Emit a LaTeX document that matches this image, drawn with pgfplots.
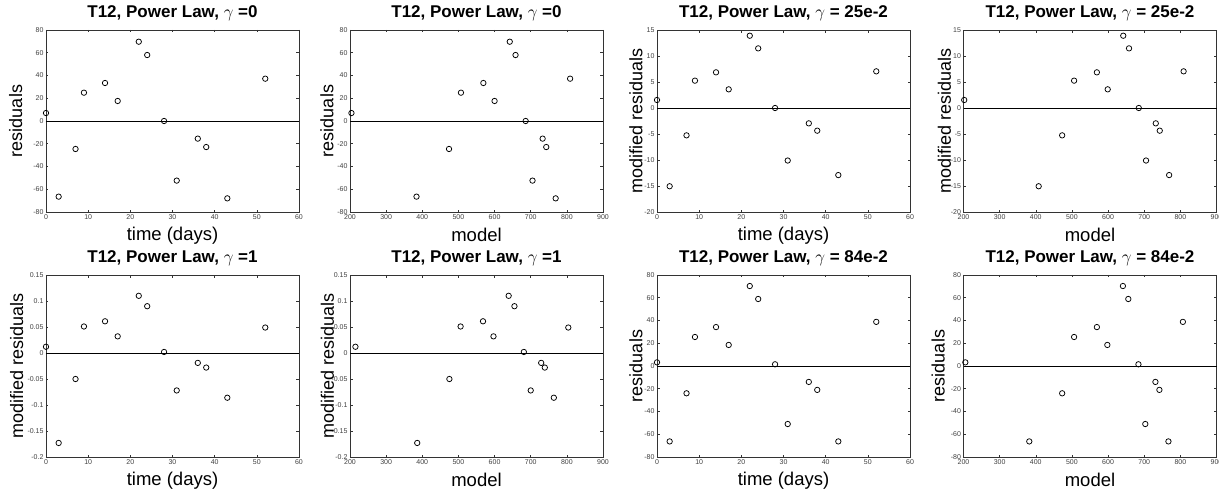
\documentclass[border=0pt]{standalone}
\usepackage{fontspec}
\setmainfont{Liberation Sans}
\usepackage{pgfplots}
\usepackage{pgfplotstable}
\pgfplotsset{compat=1.18}

% t, res0, model0, mres25, model25, mres1, model1, res84, model84
\pgfplotstableread{
t  ra   ma   rb     mb   rc      mc   rd     md
0  7.0  204  1.54   202  0.012   215  3.2    205
3  -66.5 384 -15.05 408  -0.173  386  -66.3  382
7  -24.6 474 -5.26  473  -0.050  475  -24.0  473
9  24.9 507  5.26   506  0.051   506  25.5   506
14 33.4 569  6.86   569  0.061   568  34.2   569
17 17.6 600  3.59   599  0.032   597  18.5   598
22 69.7 642  13.9   642  0.110   639  70.3   641
24 58.0 658  11.47  658  0.090   655  58.9   656
28 0.0  686  0.0    685  0.002   681  1.5    684
31 -52.4 705 -10.1  705  -0.072  700  -51.0  703
36 -15.5 733 -2.95  732  -0.019  729  -14.0  731
38 -22.9 743 -4.36  743  -0.028  739  -21.0  742
43 -68.0 769 -12.9  769  -0.086  764  -66.3  767
52 37.2 809  7.05   809  0.049   804  38.8   807
}\data

\pgfplotsset{
  mstyle/.style={
    scale only axis, width=253pt, height=182pt, anchor=south west,
    axis line style={black!80, line width=0.5pt},
    every tick/.style={black!80, line width=0.5pt},
    tick align=inside, major tick length=2.5pt,
    /pgf/number format/assume math mode=true,
    ticklabel style={font=\fontsize{7}{7}\selectfont, text=black!75},
    xticklabel style={yshift=1pt},
    yticklabel style={xshift=1pt},
    title style={font=\bfseries\fontsize{17}{17}\selectfont, at={(axis description cs:0.5,1)}, anchor=base, yshift=6.5pt},
    xlabel style={font=\fontsize{18.5}{18.5}\selectfont, at={(axis description cs:0.5,-0.128)}, anchor=center},
    ylabel style={font=\fontsize{18}{18}\selectfont, anchor=center},
    clip=false,
  },
  tx/.style={xmin=0, xmax=60, xtick={0,10,...,60}, xticklabels={0,10,20,30,40,50,60}, xlabel={time (days)}},
  mx/.style={xmin=200, xmax=900, xtick={200,300,...,900}, xticklabels={200,300,400,500,600,700,800,900}, xlabel={model}},
  ry/.style={ymin=-80, ymax=80, ytick={-80,-60,...,80}, yticklabels={-80,-60,-40,-20,0,20,40,60,80}, ylabel={residuals}},
  by/.style={ymin=-20, ymax=15, ytick={-20,-15,...,15}, yticklabels={-20,-15,-10,-5,0,5,10,15}, ylabel={modified residuals}},
  cy/.style={ymin=-0.2, ymax=0.15, ytick={-0.2,-0.15,-0.1,-0.05,0,0.05,0.1,0.15}, yticklabels={-0.2,-0.15,-0.1,-0.05,0,0.05,0.1,0.15}, ylabel={modified residuals}},
  pts/.style={only marks, mark=o, mark size=2.7pt, black, mark options={line width=0.75pt}},
  zl/.style={black, line width=0.8pt},
}

\begin{document}
\begin{tikzpicture}
\path[use as bounding box] (0,0) rectangle (1219pt,491pt);

% Row 1
\begin{axis}[mstyle, tx, ry, at={(46pt,279pt)}, title={T12, Power Law, $\gamma$ =0},
  ylabel style={at={(axis description cs:-0.12,0.5)}}]
\addplot[zl] coordinates {(0,0) (60,0)};
\addplot[pts] table[x=t, y=ra] {\data};
\end{axis}

\begin{axis}[mstyle, mx, ry, at={(350pt,279pt)}, title={T12, Power Law, $\gamma$ =0},
  ylabel style={at={(axis description cs:-0.091,0.5)}}]
\addplot[zl] coordinates {(200,0) (900,0)};
\addplot[pts] table[x=ma, y=ra] {\data};
\end{axis}

\begin{axis}[mstyle, tx, by, at={(657pt,279pt)}, title={T12, Power Law, $\gamma$ = 25e-2},
  ylabel style={at={(axis description cs:-0.083,0.5)}}]
\addplot[zl] coordinates {(0,0) (60,0)};
\addplot[pts] table[x=t, y=rb] {\data};
\end{axis}

\begin{axis}[mstyle, mx, by, at={(963.5pt,279pt)}, title={T12, Power Law, $\gamma$ = 25e-2},
  ylabel style={at={(axis description cs:-0.075,0.5)}}]
\addplot[zl] coordinates {(200,0) (900,0)};
\addplot[pts] table[x=mb, y=rb] {\data};
\end{axis}

% Row 2
\begin{axis}[mstyle, tx, cy, at={(46pt,34pt)}, title={T12, Power Law, $\gamma$ =1},
  ylabel style={at={(axis description cs:-0.116,0.5)}}]
\addplot[zl] coordinates {(0,0) (60,0)};
\addplot[pts] table[x=t, y=rc] {\data};
\end{axis}

\begin{axis}[mstyle, mx, cy, at={(350pt,34pt)}, title={T12, Power Law, $\gamma$ =1},
  ylabel style={at={(axis description cs:-0.089,0.5)}}]
\addplot[zl] coordinates {(200,0) (900,0)};
\addplot[pts] table[x=mc, y=rc] {\data};
\end{axis}

\begin{axis}[mstyle, tx, ry, at={(657pt,34pt)}, title={T12, Power Law, $\gamma$ = 84e-2},
  ylabel style={at={(axis description cs:-0.083,0.5)}}]
\addplot[zl] coordinates {(0,0) (60,0)};
\addplot[pts] table[x=t, y=rd] {\data};
\end{axis}

\begin{axis}[mstyle, mx, ry, at={(963.5pt,34pt)}, title={T12, Power Law, $\gamma$ = 84e-2},
  ylabel style={at={(axis description cs:-0.1,0.5)}}]
\addplot[zl] coordinates {(200,0) (900,0)};
\addplot[pts] table[x=md, y=rd] {\data};
\end{axis}
\end{tikzpicture}
\end{document}
